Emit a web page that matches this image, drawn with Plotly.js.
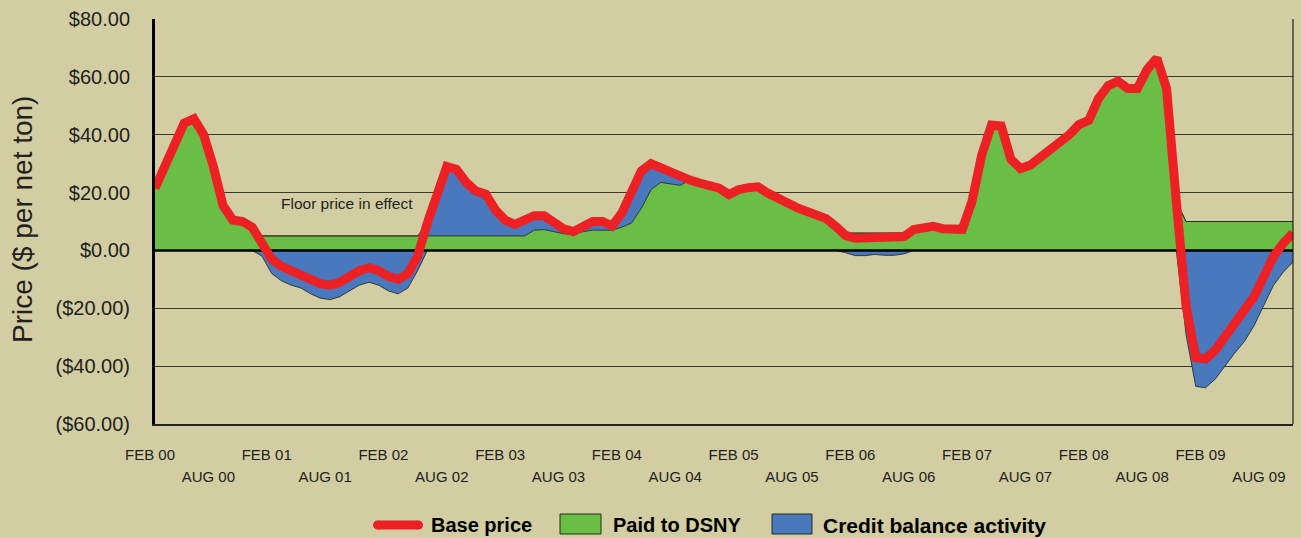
<!DOCTYPE html>
<html><head><meta charset="utf-8">
<script src="https://cdn.plot.ly/plotly-3.0.1.min.js"></script>
<style>html,body{margin:0;padding:0;background:#D2CDA2;} #chart{width:1301px;height:538px;}</style>
</head><body><div id="chart"></div>
<script>
// Monthly values, Feb 2000 (index 0) .. Nov 2009 (index 117)
const basePrice = [
  21.5, 29, 36.5, 44, 45.5, 40, 29, 15.5, 10.5, 10, 8, 3,
  -3, -5.5, -7, -8, -10, -11.5, -12, -11, -9, -7, -6, -7,
  -9, -10, -8, -2, 9.5, 20.5, 29, 28, 23.5, 20.5, 19.5, 14,
  10.5, 9, 10.5, 12, 12, 9.5, 7.5, 6.5, 8, 10, 10, 8.5,
  13, 20.5, 27.5, 30, 28.5, 27, 25.3, 24.3, 23.3, 22.3, 21.5, 19.3,
  21, 21.7, 22, 19.8, 18.5, 16.5, 14.8, 13.5, 12.2, 11, 8.3, 5.2,
  4.2, 4.2, 4.6, 4.3, 4.3, 4.8, 7.2, 8, 8.3, 7.5, 7.2, 7.3,
  17, 33, 43.3, 43, 31.5, 28.3, 29.5, 32, 34.5, 37, 40, 43.5,
  45, 52.5, 57, 58.5, 56, 56, 62.5, 66.5, 56, 17, -19, -37,
  -37.5, -34.5, -30, -25.5, -21.5, -16, -9, -2, 2.5, 6
];
const paidToDSNY = [
  21.5, 29, 36.5, 44, 45.5, 40, 29, 15.5, 10.5, 10, 8, 5,
  5, 5, 5, 5, 5, 5, 5, 5, 5, 5, 5, 5,
  5, 5, 5, 5, 5, 5, 5, 5, 5, 5, 5, 5,
  5, 5, 5, 7, 7.2, 6.5, 5.8, 5.5, 6.5, 7, 7, 7,
  8, 9.5, 14.5, 21, 23.5, 23, 22.5, 24.3, 23.3, 22.3, 21.5, 19.3,
  21, 21.7, 22, 19.8, 18.5, 16.5, 14.8, 13.5, 12.2, 11, 8.3, 6,
  6, 6, 6, 6, 6, 6, 7.2, 8, 8.3, 7.5, 7.2, 7.3,
  17, 33, 43.3, 43, 31.5, 28.3, 29.5, 32, 34.5, 37, 40, 43.5,
  45, 52.5, 57, 58.5, 56, 56, 62.5, 66.5, 56, 17, 10, 10,
  10, 10, 10, 10, 10, 10, 10, 10, 10, 10
];
const creditBalance = [
  0, 0, 0, 0, 0, 0, 0, 0, 0, 0, 0, -2,
  -8, -10.5, -12, -13, -15, -16.5, -17, -16, -14, -12, -11, -12,
  -14, -15, -13, -7, 0, 0, 0, 0, 0, 0, 0, 0,
  0, 0, 0, 0, 0, 0, 0, 0, 0, 0, 0, 0,
  0, 0, 0, 0, 0, 0, 0, 0, 0, 0, 0, 0,
  0, 0, 0, 0, 0, 0, 0, 0, 0, 0, 0, -0.8,
  -1.8, -1.8, -1.4, -1.7, -1.7, -1.2, 0, 0, 0, 0, 0, 0,
  0, 0, 0, 0, 0, 0, 0, 0, 0, 0, 0, 0,
  0, 0, 0, 0, 0, 0, 0, 0, 0, 0, -29, -47,
  -47.5, -44.5, -40, -35.5, -31.5, -26, -19, -12, -7.5, -4
];
const febLabels = ['FEB 00','FEB 01','FEB 02','FEB 03','FEB 04','FEB 05','FEB 06','FEB 07','FEB 08','FEB 09'];
const augLabels = ['AUG 00','AUG 01','AUG 02','AUG 03','AUG 04','AUG 05','AUG 06','AUG 07','AUG 08','AUG 09'];
const yTickValues = [-60, -40, -20, 0, 20, 40, 60, 80];
const yTickLabels = ['($60.00)','($40.00)','($20.00)','$0.00','$20.00','$40.00','$60.00','$80.00'];
const seriesNames = ['Base price', 'Paid to DSNY', 'Credit balance activity'];

const idx = basePrice.map((_, i) => i);
const febPos = febLabels.map((_, k) => 12 * k);
const augPos = augLabels.map((_, k) => 12 * k + 6);
const creditTop = basePrice.map((p, i) => Math.max(p, paidToDSNY[i]));
const xRange = [idx[0], idx[idx.length - 1]];

const BG = '#D2CDA2', GREEN = '#6ABD45', BLUE = '#4A78BC', RED = '#ED2024', TXT = '#231F20';
const FONT = 'Liberation Sans, Arial, sans-serif';
const OUT = '#1d2416';

const traces = [
  {x: idx, y: paidToDSNY, type: 'scatter', mode: 'lines', fill: 'tozeroy', fillcolor: GREEN,
   line: {color: OUT, width: 0.8}, hoverinfo: 'skip', showlegend: false},
  {x: idx, y: creditTop, type: 'scatter', mode: 'lines', fill: 'tonexty', fillcolor: BLUE,
   line: {color: OUT, width: 0.8}, hoverinfo: 'skip', showlegend: false},
  {x: idx, y: creditBalance, type: 'scatter', mode: 'lines', fill: 'tozeroy', fillcolor: BLUE,
   line: {color: OUT, width: 0.8}, hoverinfo: 'skip', showlegend: false},
  {x: xRange, y: [0, 0], type: 'scatter', mode: 'lines', line: {color: '#000', width: 2.5},
   hoverinfo: 'skip', showlegend: false},
  {x: idx, y: basePrice, type: 'scatter', mode: 'lines', line: {color: RED, width: 9},
   hoverinfo: 'skip', showlegend: false},
  {x: [xRange[0]], y: [null], xaxis: 'x2', yaxis: 'y', type: 'scatter', mode: 'lines',
   hoverinfo: 'skip', showlegend: false}
];

// pixel -> paper helpers (plot area 155..1293 x 19..424)
const L = 155, T = 19, PW = 1138, PH = 405;
const xp = px => (px - L) / PW;
const yp = py => (T + PH - py) / PH;

const legendY = 525;
const shapes = [
  {type: 'line', xref: 'paper', yref: 'paper', x0: 1, x1: 1, y0: 0, y1: 1, line: {color: '#000', width: 1}},
  {type: 'line', xref: 'paper', yref: 'paper', x0: xp(377.5), x1: xp(418.5), y0: yp(legendY), y1: yp(legendY),
   line: {color: RED, width: 9}},
  {type: 'circle', xref: 'paper', yref: 'paper', xsizemode: 'pixel', ysizemode: 'pixel',
   xanchor: xp(377.5), yanchor: yp(legendY), x0: -4.5, x1: 4.5, y0: -4.5, y1: 4.5,
   fillcolor: RED, line: {width: 0}},
  {type: 'circle', xref: 'paper', yref: 'paper', xsizemode: 'pixel', ysizemode: 'pixel',
   xanchor: xp(418.5), yanchor: yp(legendY), x0: -4.5, x1: 4.5, y0: -4.5, y1: 4.5,
   fillcolor: RED, line: {width: 0}},
  {type: 'rect', xref: 'paper', yref: 'paper', x0: xp(560), x1: xp(601), y0: yp(534), y1: yp(514),
   fillcolor: GREEN, line: {color: '#2a2a20', width: 1}},
  {type: 'rect', xref: 'paper', yref: 'paper', x0: xp(772), x1: xp(812), y0: yp(534), y1: yp(514),
   fillcolor: BLUE, line: {color: '#2a2a20', width: 1}}
];

const legendFont = {family: FONT, size: 20, color: '#000', weight: 'bold'};
const annotations = [
  {text: 'Price ($ per net ton)', xref: 'paper', yref: 'paper', x: xp(22), y: yp(220), textangle: -90,
   xanchor: 'center', yanchor: 'middle', showarrow: false, font: {family: FONT, size: 28, color: TXT}},
  {text: 'Floor price in effect', xref: 'x', yref: 'y', x: 19.7, y: 16.3, xanchor: 'center', yanchor: 'middle',
   showarrow: false, font: {family: FONT, size: 15.5, color: TXT}},
  {text: '<b>' + seriesNames[0] + '</b>', xref: 'paper', yref: 'paper', x: xp(429), y: yp(legendY),
   xanchor: 'left', yanchor: 'middle', showarrow: false, font: legendFont},
  {text: '<b>' + seriesNames[1] + '</b>', xref: 'paper', yref: 'paper', x: xp(611), y: yp(legendY),
   xanchor: 'left', yanchor: 'middle', showarrow: false, font: legendFont},
  {text: '<b>' + seriesNames[2] + '</b>', xref: 'paper', yref: 'paper', x: xp(821), y: yp(legendY),
   xanchor: 'left', yanchor: 'middle', showarrow: false, font: {family: FONT, size: 21, color: '#000', weight: 'bold'}}
];

const layout = {
  width: 1301, height: 538,
  margin: {l: L, r: 1301 - L - PW, t: T, b: 538 - T - PH, pad: 0},
  paper_bgcolor: BG, plot_bgcolor: BG,
  showlegend: false,
  font: {family: FONT, color: TXT},
  xaxis: {range: xRange, tickmode: 'array', tickvals: febPos, ticktext: febLabels, ticks: '',
          showgrid: false, zeroline: false, showline: true, linecolor: '#222', linewidth: 1.5,
          tickfont: {family: FONT, size: 15, color: TXT}, ticklabelshift: -5, ticklabelstandoff: 16,
          fixedrange: true},
  xaxis2: {overlaying: 'x', anchor: 'y', side: 'bottom', range: xRange, tickmode: 'array',
           tickvals: augPos, ticktext: augLabels, ticks: '', showgrid: false, zeroline: false,
           showline: false, tickfont: {family: FONT, size: 15, color: TXT}, ticklabelshift: -5,
           ticklabelstandoff: 42, fixedrange: true},
  yaxis: {range: [-60, 80], tickmode: 'array', tickvals: yTickValues, ticktext: yTickLabels, ticks: '',
          showgrid: true, gridcolor: '#3c3b30', gridwidth: 1.2, zeroline: false,
          showline: true, linecolor: '#000', linewidth: 3,
          tickfont: {family: FONT, size: 20, color: TXT}, ticklabelstandoff: 18, fixedrange: true},
  shapes: shapes,
  annotations: annotations
};

Plotly.newPlot('chart', traces, layout, {displayModeBar: false, staticPlot: true});
</script></body></html>
